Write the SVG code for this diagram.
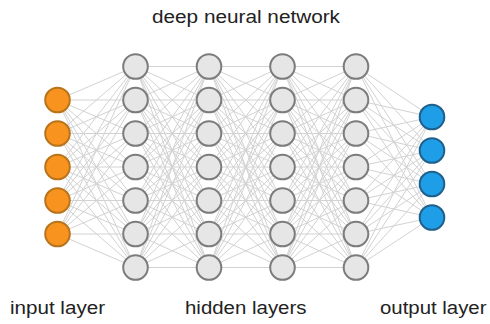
<svg xmlns="http://www.w3.org/2000/svg" xmlns:xlink="http://www.w3.org/1999/xlink" width="490" height="324" viewBox="0 0 490 324">
<style>
.edge{fill:none;stroke:#d2d2d2;stroke-width:1}
.in{fill:#f7931e;stroke:#b8741c;stroke-width:2}
.hid{fill:#e6e6e6;stroke:#7c7c7c;stroke-width:2}
.out{fill:#1e9ee6;stroke:#1f5f8c;stroke-width:2}
.lbl{font-family:"Liberation Sans",Arial,sans-serif;font-size:17.5px;fill:#222}
</style>
<defs>
<path id="hh" class="edge" d="M0 66.5L73.5 66.5M0 66.5L73.5 100M0 66.5L73.5 133.5M0 66.5L73.5 167M0 66.5L73.5 200.5M0 66.5L73.5 234M0 66.5L73.5 267.5M0 100L73.5 66.5M0 100L73.5 100M0 100L73.5 133.5M0 100L73.5 167M0 100L73.5 200.5M0 100L73.5 234M0 100L73.5 267.5M0 133.5L73.5 66.5M0 133.5L73.5 100M0 133.5L73.5 133.5M0 133.5L73.5 167M0 133.5L73.5 200.5M0 133.5L73.5 234M0 133.5L73.5 267.5M0 167L73.5 66.5M0 167L73.5 100M0 167L73.5 133.5M0 167L73.5 167M0 167L73.5 200.5M0 167L73.5 234M0 167L73.5 267.5M0 200.5L73.5 66.5M0 200.5L73.5 100M0 200.5L73.5 133.5M0 200.5L73.5 167M0 200.5L73.5 200.5M0 200.5L73.5 234M0 200.5L73.5 267.5M0 234L73.5 66.5M0 234L73.5 100M0 234L73.5 133.5M0 234L73.5 167M0 234L73.5 200.5M0 234L73.5 234M0 234L73.5 267.5M0 267.5L73.5 66.5M0 267.5L73.5 100M0 267.5L73.5 133.5M0 267.5L73.5 167M0 267.5L73.5 200.5M0 267.5L73.5 234M0 267.5L73.5 267.5"/>
</defs>
<g id="connectors">
<path class="edge" d="M57.5 100L135.5 66.5M57.5 100L135.5 100M57.5 100L135.5 133.5M57.5 100L135.5 167M57.5 100L135.5 200.5M57.5 100L135.5 234M57.5 100L135.5 267.5M57.5 133.5L135.5 66.5M57.5 133.5L135.5 100M57.5 133.5L135.5 133.5M57.5 133.5L135.5 167M57.5 133.5L135.5 200.5M57.5 133.5L135.5 234M57.5 133.5L135.5 267.5M57.5 167L135.5 66.5M57.5 167L135.5 100M57.5 167L135.5 133.5M57.5 167L135.5 167M57.5 167L135.5 200.5M57.5 167L135.5 234M57.5 167L135.5 267.5M57.5 200.5L135.5 66.5M57.5 200.5L135.5 100M57.5 200.5L135.5 133.5M57.5 200.5L135.5 167M57.5 200.5L135.5 200.5M57.5 200.5L135.5 234M57.5 200.5L135.5 267.5M57.5 234L135.5 66.5M57.5 234L135.5 100M57.5 234L135.5 133.5M57.5 234L135.5 167M57.5 234L135.5 200.5M57.5 234L135.5 234M57.5 234L135.5 267.5"/>
<use xlink:href="#hh" href="#hh" transform="translate(135.5 0)"/>
<use xlink:href="#hh" href="#hh" transform="translate(209 0)"/>
<use xlink:href="#hh" href="#hh" transform="translate(282.5 0)"/>
<path class="edge" d="M356 66.5L432 117M356 66.5L432 150.5M356 66.5L432 184M356 66.5L432 217.5M356 100L432 117M356 100L432 150.5M356 100L432 184M356 100L432 217.5M356 133.5L432 117M356 133.5L432 150.5M356 133.5L432 184M356 133.5L432 217.5M356 167L432 117M356 167L432 150.5M356 167L432 184M356 167L432 217.5M356 200.5L432 117M356 200.5L432 150.5M356 200.5L432 184M356 200.5L432 217.5M356 234L432 117M356 234L432 150.5M356 234L432 184M356 234L432 217.5M356 267.5L432 117M356 267.5L432 150.5M356 267.5L432 184M356 267.5L432 217.5"/>
</g>
<g id="in1"><circle class="in" cx="57.5" cy="100" r="12.3"/></g>
<g id="in2"><circle class="in" cx="57.5" cy="133.5" r="12.3"/></g>
<g id="in3"><circle class="in" cx="57.5" cy="167" r="12.3"/></g>
<g id="in4"><circle class="in" cx="57.5" cy="200.5" r="12.3"/></g>
<g id="in5"><circle class="in" cx="57.5" cy="234" r="12.3"/></g>
<g id="h1n1"><circle class="hid" cx="135.5" cy="66.5" r="12.3"/></g>
<g id="h1n2"><circle class="hid" cx="135.5" cy="100" r="12.3"/></g>
<g id="h1n3"><circle class="hid" cx="135.5" cy="133.5" r="12.3"/></g>
<g id="h1n4"><circle class="hid" cx="135.5" cy="167" r="12.3"/></g>
<g id="h1n5"><circle class="hid" cx="135.5" cy="200.5" r="12.3"/></g>
<g id="h1n6"><circle class="hid" cx="135.5" cy="234" r="12.3"/></g>
<g id="h1n7"><circle class="hid" cx="135.5" cy="267.5" r="12.3"/></g>
<g id="h2n1"><circle class="hid" cx="209" cy="66.5" r="12.3"/></g>
<g id="h2n2"><circle class="hid" cx="209" cy="100" r="12.3"/></g>
<g id="h2n3"><circle class="hid" cx="209" cy="133.5" r="12.3"/></g>
<g id="h2n4"><circle class="hid" cx="209" cy="167" r="12.3"/></g>
<g id="h2n5"><circle class="hid" cx="209" cy="200.5" r="12.3"/></g>
<g id="h2n6"><circle class="hid" cx="209" cy="234" r="12.3"/></g>
<g id="h2n7"><circle class="hid" cx="209" cy="267.5" r="12.3"/></g>
<g id="h3n1"><circle class="hid" cx="282.5" cy="66.5" r="12.3"/></g>
<g id="h3n2"><circle class="hid" cx="282.5" cy="100" r="12.3"/></g>
<g id="h3n3"><circle class="hid" cx="282.5" cy="133.5" r="12.3"/></g>
<g id="h3n4"><circle class="hid" cx="282.5" cy="167" r="12.3"/></g>
<g id="h3n5"><circle class="hid" cx="282.5" cy="200.5" r="12.3"/></g>
<g id="h3n6"><circle class="hid" cx="282.5" cy="234" r="12.3"/></g>
<g id="h3n7"><circle class="hid" cx="282.5" cy="267.5" r="12.3"/></g>
<g id="h4n1"><circle class="hid" cx="356" cy="66.5" r="12.3"/></g>
<g id="h4n2"><circle class="hid" cx="356" cy="100" r="12.3"/></g>
<g id="h4n3"><circle class="hid" cx="356" cy="133.5" r="12.3"/></g>
<g id="h4n4"><circle class="hid" cx="356" cy="167" r="12.3"/></g>
<g id="h4n5"><circle class="hid" cx="356" cy="200.5" r="12.3"/></g>
<g id="h4n6"><circle class="hid" cx="356" cy="234" r="12.3"/></g>
<g id="h4n7"><circle class="hid" cx="356" cy="267.5" r="12.3"/></g>
<g id="out1"><circle class="out" cx="432" cy="117" r="12.3"/></g>
<g id="out2"><circle class="out" cx="432" cy="150.5" r="12.3"/></g>
<g id="out3"><circle class="out" cx="432" cy="184" r="12.3"/></g>
<g id="out4"><circle class="out" cx="432" cy="217.5" r="12.3"/></g>
<g id="labels">
<text class="lbl" x="152" y="22.5" textLength="188" lengthAdjust="spacingAndGlyphs">deep neural network</text>
<text class="lbl" x="10" y="313.5" textLength="95" lengthAdjust="spacingAndGlyphs">input layer</text>
<text class="lbl" x="185" y="313.5" textLength="121.5" lengthAdjust="spacingAndGlyphs">hidden layers</text>
<text class="lbl" x="380" y="313.5" textLength="106.5" lengthAdjust="spacingAndGlyphs">output layer</text>
</g>
</svg>
